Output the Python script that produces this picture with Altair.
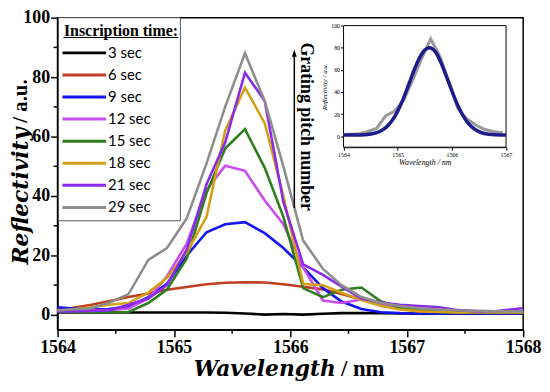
import altair as alt
import pandas as pd

# ---------------- data ----------------
wavelength = [1564.0, 1564.11, 1564.28, 1564.44, 1564.61, 1564.78, 1564.94, 1565.11, 1565.28,
              1565.44, 1565.61, 1565.78, 1565.94, 1566.11, 1566.28, 1566.44, 1566.61, 1566.78,
              1566.94, 1567.11, 1567.28, 1567.44, 1567.61, 1567.78, 1567.94, 1568.0]

series_labels = ["3 sec", "6 sec", "9 sec", "12 sec", "15 sec", "18 sec", "21 sec", "29 sec"]
series_colors = ["#000000", "#BF3F1F", "#1414F5", "#C94BF2", "#2E7D1F", "#D4A017", "#8B2BE8", "#8E8E8E"]

refl_3 = [0.8, 0.8, 0.8, 0.8, 0.8, 0.8, 0.8, 0.8, 0.8, 0.7, 0.5, 0.1, 0.3, 0.1, 0.4, 0.6, 0.6, 0.6,
          0.5, 0.4, 0.4, 0.4, 0.4, 0.4, 0.4, 0.4]
refl_6 = [1.7, 2.2, 3.3, 4.6, 6.0, 7.2, 8.5, 9.4, 10.3, 10.8, 11.0, 10.9, 10.3, 9.5, 8.6, 7.0, 5.2,
          3.8, 2.5, 1.5, 1.0, 0.8, 0.7, 0.6, 0.6, 0.6]
refl_9 = [2.6, 2.2, 1.8, 2.0, 2.8, 6.0, 10.5, 20.0, 27.8, 30.5, 31.2, 27.5, 22.5, 16.0, 9.0, 4.5,
          2.0, 0.9, 0.6, 0.5, 0.5, 0.5, 0.5, 0.5, 0.5, 0.5]
refl_12 = [1.5, 1.5, 1.5, 1.6, 2.2, 5.5, 13.0, 24.0, 42.0, 50.2, 48.5, 38.5, 30.5, 16.0, 4.8, 4.0,
           5.2, 3.2, 2.3, 1.8, 1.5, 1.4, 1.3, 1.2, 1.2, 1.2]
refl_15 = [1.0, 1.0, 0.8, 0.8, 1.0, 4.0, 8.5, 19.0, 41.0, 56.0, 62.5, 49.5, 33.0, 9.0, 6.0, 8.5,
           9.2, 4.5, 2.5, 1.5, 1.0, 0.8, 0.8, 0.8, 0.8, 0.8]
refl_18 = [1.5, 1.8, 2.5, 3.4, 4.0, 7.5, 12.5, 21.0, 33.0, 62.0, 76.5, 64.5, 40.0, 10.5, 10.0, 7.5,
           5.0, 3.0, 1.8, 1.2, 1.0, 0.8, 0.8, 0.8, 0.8, 0.8]
refl_21 = [1.2, 1.2, 1.3, 1.5, 3.4, 5.5, 10.0, 22.0, 44.0, 58.0, 81.5, 72.0, 38.0, 17.0, 13.5, 9.5,
           5.5, 4.2, 3.4, 3.0, 2.6, 1.6, 1.2, 1.3, 2.0, 2.3]
refl_29 = [1.5, 1.8, 2.2, 4.0, 7.0, 18.5, 22.5, 32.5, 51.0, 70.0, 88.0, 72.0, 50.0, 25.0, 15.5, 10.0,
           6.0, 4.0, 3.0, 2.2, 1.8, 1.5, 1.3, 1.2, 1.2, 1.2]

# inset: Gaussian fit curve
fit_wavelength = [1564.0, 1564.2, 1564.4, 1564.6, 1564.7, 1564.8, 1564.9, 1565.0, 1565.1, 1565.2,
                  1565.3, 1565.4, 1565.5, 1565.58, 1565.7, 1565.8, 1565.9, 1566.0, 1566.1, 1566.2,
                  1566.3, 1566.4, 1566.5, 1566.6, 1566.8, 1567.0]
fit_values = [1.0, 1.0, 1.3, 2.9, 5.0, 8.6, 14.3, 22.6, 33.5, 46.3, 59.4, 70.7, 78.0, 80.0, 76.0,
              66.4, 53.8, 41.0, 28.8, 18.9, 11.7, 7.0, 4.1, 2.4, 1.3, 1.0]

x_ticks = [1564, 1565, 1566, 1567, 1568]
x_minor = [1564.5, 1565.5, 1566.5, 1567.5]
y_ticks = [0, 20, 40, 60, 80, 100]
y_minor = [10, 30, 50, 70, 90]
inset_x_ticks = [1564, 1565, 1566, 1567]
inset_y_ticks = [0, 20, 40, 60, 80, 100]

all_series = [refl_3, refl_6, refl_9, refl_12, refl_15, refl_18, refl_21, refl_29]
rows = []
for lab, vals in zip(series_labels, all_series):
    for w, v in zip(wavelength, vals):
        rows.append({"wl": w, "refl": v, "series": lab})
df = pd.DataFrame(rows)

inset_meas = pd.DataFrame({"wl": wavelength, "refl": refl_29})
inset_fit = pd.DataFrame({"wl": fit_wavelength, "refl": fit_values})
one = pd.DataFrame({"a": [0]})

W, H = 470, 315
SERIF = "Liberation Serif"

xs = alt.Scale(domain=[1564, 1568], nice=False, zero=False)
ys = alt.Scale(domain=[-5, 100], nice=False, zero=False)
color = alt.Color("series:N", scale=alt.Scale(domain=series_labels, range=series_colors), legend=None)

lines = alt.Chart(df).mark_line(strokeWidth=2.6).encode(
    x=alt.X("wl:Q", scale=xs, axis=alt.Axis(
        orient="bottom", values=x_ticks, format="d", title=None, grid=False, tickSize=7,
        tickWidth=1.5, tickColor="black", domainColor="black", domainWidth=1.5, labelFont=SERIF,
        labelFontWeight="bold", labelFontSize=18, labelColor="black", labelPadding=2,
        labelFlush=False)),
    y=alt.Y("refl:Q", scale=ys, axis=alt.Axis(
        orient="left", values=y_ticks, title=None, grid=False, tickSize=7, tickWidth=1.5,
        tickColor="black", domainColor="black", domainWidth=1.5, labelFont=SERIF,
        labelFontWeight="bold", labelFontSize=18, labelColor="black", labelPadding=1)),
    color=color,
)

minor_y = alt.Chart(pd.DataFrame({"v": y_minor})).mark_rule(color="black", strokeWidth=1.5).encode(
    y=alt.Y("v:Q", scale=ys, axis=None), x=alt.value(-4), x2=alt.value(0))
minor_x = alt.Chart(pd.DataFrame({"w": x_minor})).mark_rule(color="black", strokeWidth=1.5).encode(
    x=alt.X("w:Q", scale=xs, axis=None), y=alt.value(H), y2=alt.value(H + 4))


def label(text, x, y, **kw):
    return alt.Chart(one).mark_text(text=text, **kw).encode(x=alt.value(x), y=alt.value(y))


title_kw = dict(fontWeight="bold", color="black")
x_title_a = label("Wavelength", 281, 362, align="right", baseline="alphabetic",
                  font="DejaVu Serif", fontStyle="italic", fontSize=22, **title_kw)
x_title_b = label("/ nm", 286, 362, align="left", baseline="alphabetic",
                  font=SERIF, fontSize=23, **title_kw)
y_title_a = label("Reflectivity", -37, 111, angle=270, align="right", baseline="middle",
                  font="DejaVu Serif", fontStyle="italic", fontSize=22, **title_kw)
y_title_b = label("/ a.u.", -37, 106, angle=270, align="left", baseline="middle",
                  font=SERIF, fontSize=21, **title_kw)

arrow_line = alt.Chart(one).mark_rule(color="black", strokeWidth=1.5).encode(
    x=alt.value(239), y=alt.value(192), y2=alt.value(37))
arrow_head = alt.Chart(one).mark_point(shape="M0,-1L0.7,1L-0.7,1Z", filled=True, size=50,
                                       color="black", opacity=1).encode(
    x=alt.value(239), y=alt.value(36))
arrow_text = label("Grating pitch number", 251, 110, angle=90, align="center", baseline="middle",
                   font=SERIF, fontSize=18, **title_kw)

# ---------------- legend ----------------
leg_df = pd.DataFrame({"series": series_labels})
leg_y = alt.Y("series:N", scale=alt.Scale(type="point", domain=series_labels,
                                          range=[35.5, 191.5], padding=0), axis=None)
leg_box = alt.Chart(one).mark_rect(fill="white", stroke="#555555", strokeWidth=1).encode(
    x=alt.value(1), x2=alt.value(124), y=alt.value(0), y2=alt.value(205))
leg_title = label("Inscription time:", 64, 18, align="center", baseline="alphabetic",
                  font=SERIF, fontSize=16, **title_kw)
leg_underline = alt.Chart(one).mark_rule(color="black", strokeWidth=1).encode(
    x=alt.value(6), x2=alt.value(122), y=alt.value(20))
leg_lines = alt.Chart(leg_df).mark_rule(strokeWidth=3).encode(
    x=alt.value(5), x2=alt.value(49), y=leg_y, color=color)
leg_text = alt.Chart(leg_df).mark_text(align="left", baseline="middle", font="Lato",
                                       fontSize=15, color="black").encode(
    x=alt.value(51), y=leg_y, text="series:N")

# ---------------- inset ----------------
IX0, IX1, IY0, IY1 = 288.7, 452.7, 130.7, 8
ixs = alt.Scale(domain=[1564, 1567], range=[IX0, IX1], nice=False, zero=False)
iys = alt.Scale(domain=[-10, 100], range=[IY0, IY1], nice=False, zero=False)

inset_frame = alt.Chart(one).mark_rect(fill="white", stroke="black", strokeWidth=1).encode(
    x=alt.value(IX0), x2=alt.value(IX1), y=alt.value(IY1), y2=alt.value(IY0))
inset_gray = alt.Chart(inset_meas).transform_filter(alt.datum.wl <= 1567).mark_line(
    color="#999999", strokeWidth=3).encode(
    x=alt.X("wl:Q", scale=ixs, axis=alt.Axis(
        orient="bottom", offset=-(H - IY0), values=inset_x_ticks, format="d", grid=False,
        title="Wavelength / nm", titleFont=SERIF, titleFontStyle="italic", titleFontSize=8,
        titleFontWeight="normal", titlePadding=1, titleColor="black",
        labelFont=SERIF, labelFontSize=6, labelPadding=1, labelColor="black", labelFlush=False,
        tickSize=3, tickColor="black", domainColor="black", domainWidth=1)),
    y=alt.Y("refl:Q", scale=iys, axis=alt.Axis(
        orient="left", offset=-IX0, values=inset_y_ticks, grid=False,
        title="Reflectivity / a.u.", titleFont=SERIF, titleFontStyle="italic", titleFontSize=7,
        titleFontWeight="normal", titlePadding=3, titleColor="black",
        labelFont=SERIF, labelFontSize=6, labelPadding=1, labelColor="black",
        tickSize=3, tickColor="black", domainColor="black", domainWidth=1)),
)
inset_fitline = alt.Chart(inset_fit).mark_line(color="#1C1C8C", strokeWidth=3.5,
                                               interpolate="monotone").encode(
    x=alt.X("wl:Q", scale=ixs, axis=None), y=alt.Y("refl:Q", scale=iys, axis=None))

chart = alt.layer(
    lines, minor_y, minor_x, x_title_a, x_title_b, y_title_a, y_title_b,
    arrow_line, arrow_head, arrow_text,
    leg_box, leg_title, leg_underline, leg_lines, leg_text,
    inset_frame, inset_gray, inset_fitline,
).resolve_scale(
    x="independent", y="independent"
).properties(
    width=W, height=H,
    autosize=alt.AutoSizeParams(type="none"),
    padding={"left": 50, "top": 8, "right": 19, "bottom": 59},
).configure_view(stroke="black", strokeWidth=1.5)

chart.save("out.html", embed_options={"renderer": "svg", "actions": False})
